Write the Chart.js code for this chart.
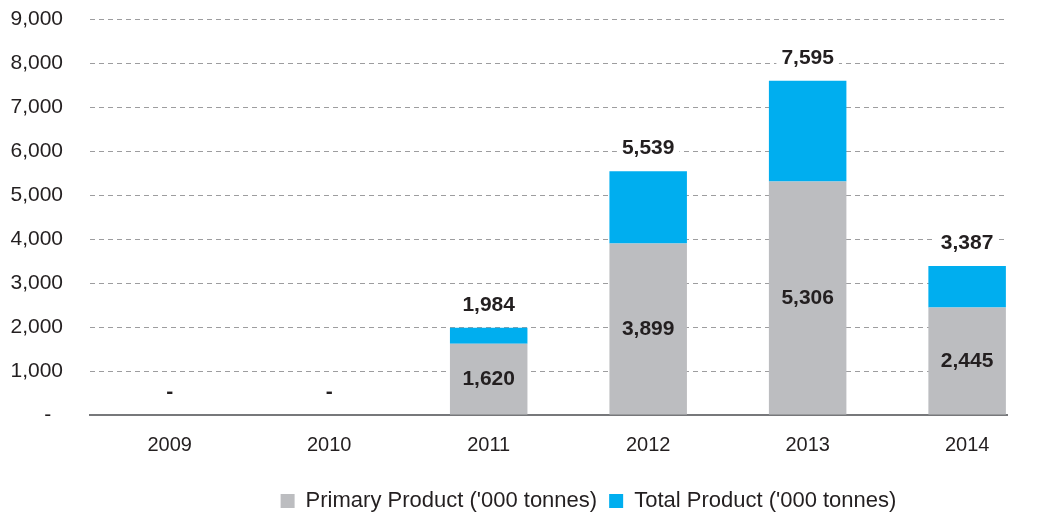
<!DOCTYPE html>
<html>
<head>
<meta charset="utf-8">
<script src="https://cdn.jsdelivr.net/npm/chart.js@4"></script>
<style>
  html, body { margin: 0; padding: 0; background: #fff; }
  #wrap { width: 1037px; height: 516px; position: relative; }
</style>
</head>
<body>
<div id="wrap"><canvas id="productChart"></canvas></div>
<script>
// values
const years = [2009, 2010, 2011, 2012, 2013, 2014];
const primaryProduct = [0, 0, 1620, 3899, 5306, 2445];
const totalProduct = [0, 0, 1984, 5539, 7595, 3387];
const yTicks = [0, 1000, 2000, 3000, 4000, 5000, 6000, 7000, 8000, 9000];

const textColor = '#231f20';
const fontFamily = '"Liberation Sans", Arial, Helvetica, sans-serif';

function fmt(v) {
    return v === 0 ? '-' : v.toLocaleString('en-US');
}

// blue part sits on top of the grey one, so it is total minus primary
let primaryPoints = [];
let extraPoints = [];
for (let i in years) {
    primaryPoints.push({ x: years[i], y: primaryProduct[i] });
    extraPoints.push({ x: years[i], y: totalProduct[i] - primaryProduct[i] });
}

const valueLabels = {
    id: 'valueLabels',
    afterDatasetsDraw(chart) {
        const ctx = chart.ctx;
        const metaPrimary = chart.getDatasetMeta(0);
        const metaTotal = chart.getDatasetMeta(1);
        ctx.save();
        ctx.font = 'bold 21px ' + fontFamily;
        ctx.textAlign = 'center';
        ctx.textBaseline = 'middle';
        for (let i = 0; i < years.length; i++) {
            const p = metaPrimary.data[i];
            const t = metaTotal.data[i];
            if (primaryProduct[i] > 0) {
                ctx.fillStyle = textColor;
                ctx.fillText(fmt(primaryProduct[i]), p.x, (p.y + p.base) / 2);
            }
            const txt = fmt(totalProduct[i]);
            const ty = t.y - 23;
            if (totalProduct[i] > 0) {
                // white box behind the total so the gridline breaks around it
                const w = ctx.measureText(txt).width + 10;
                ctx.fillStyle = '#fff';
                ctx.fillRect(t.x - w / 2, ty - 11, w, 22);
            }
            ctx.fillStyle = textColor;
            ctx.fillText(txt, t.x, ty);
        }
        ctx.restore();
    }
};

// legend in the original sits a bit right of centre
const legendShift = {
    id: 'legendShift',
    afterLayout(chart) {
        chart.legend.left += 170;
    }
};

new Chart(document.getElementById('productChart'), {
    type: 'bar',
    data: {
        datasets: [{
            label: "Primary Product ('000 tonnes)",
            data: primaryPoints,
            backgroundColor: '#bcbdc0',
            borderWidth: 0,
            barPercentage: 0.486,
            categoryPercentage: 1
        }, {
            label: "Total Product ('000 tonnes)",
            data: extraPoints,
            backgroundColor: '#00aeef',
            borderWidth: 0,
            barPercentage: 0.486,
            categoryPercentage: 1
        }]
    },
    options: {
        responsive: true,
        maintainAspectRatio: false,
        animation: false,
        layout: {
            padding: { left: 0, right: 30, top: 19, bottom: -6 }
        },
        scales: {
            x: {
                type: 'linear',
                stacked: true,
                offset: false,
                min: 2008.5,
                max: 2014.25,
                afterBuildTicks: function (scale) {
                    scale.ticks = years.map(v => ({ value: v }));
                },
                afterFit: function (scale) {
                    scale.height += 3;
                },
                ticks: {
                    callback: v => String(v),
                    color: textColor,
                    font: { family: fontFamily, size: 20 },
                    padding: 18,
                    maxRotation: 0
                },
                grid: { display: false, drawTicks: false },
                border: { display: true, color: '#77787b', width: 2 }
            },
            y: {
                stacked: true,
                min: 0,
                max: 9000,
                afterBuildTicks: function (scale) {
                    scale.ticks = yTicks.map(v => ({ value: v }));
                },
                afterFit: function (scale) {
                    scale.width = 90;
                    scale.paddingTop = 0;
                    scale.paddingBottom = 0;
                },
                ticks: {
                    callback: v => v === 0 ? '-  ' : v.toLocaleString('en-US'),
                    color: textColor,
                    font: { family: fontFamily, size: 21 },
                    padding: 27
                },
                grid: {
                    color: ctx => ctx.tick && ctx.tick.value === 0 ? 'rgba(0,0,0,0)' : '#9d9d9f',
                    lineWidth: 1,
                    drawTicks: false
                },
                border: { display: false, dash: [5, 4] }
            }
        },
        plugins: {
            legend: {
                position: 'bottom',
                labels: {
                    color: textColor,
                    font: { family: fontFamily, size: 22 },
                    boxWidth: 14,
                    boxHeight: 14,
                    padding: 12
                }
            },
            tooltip: { enabled: false }
        }
    },
    plugins: [valueLabels, legendShift]
});
</script>
</body>
</html>
